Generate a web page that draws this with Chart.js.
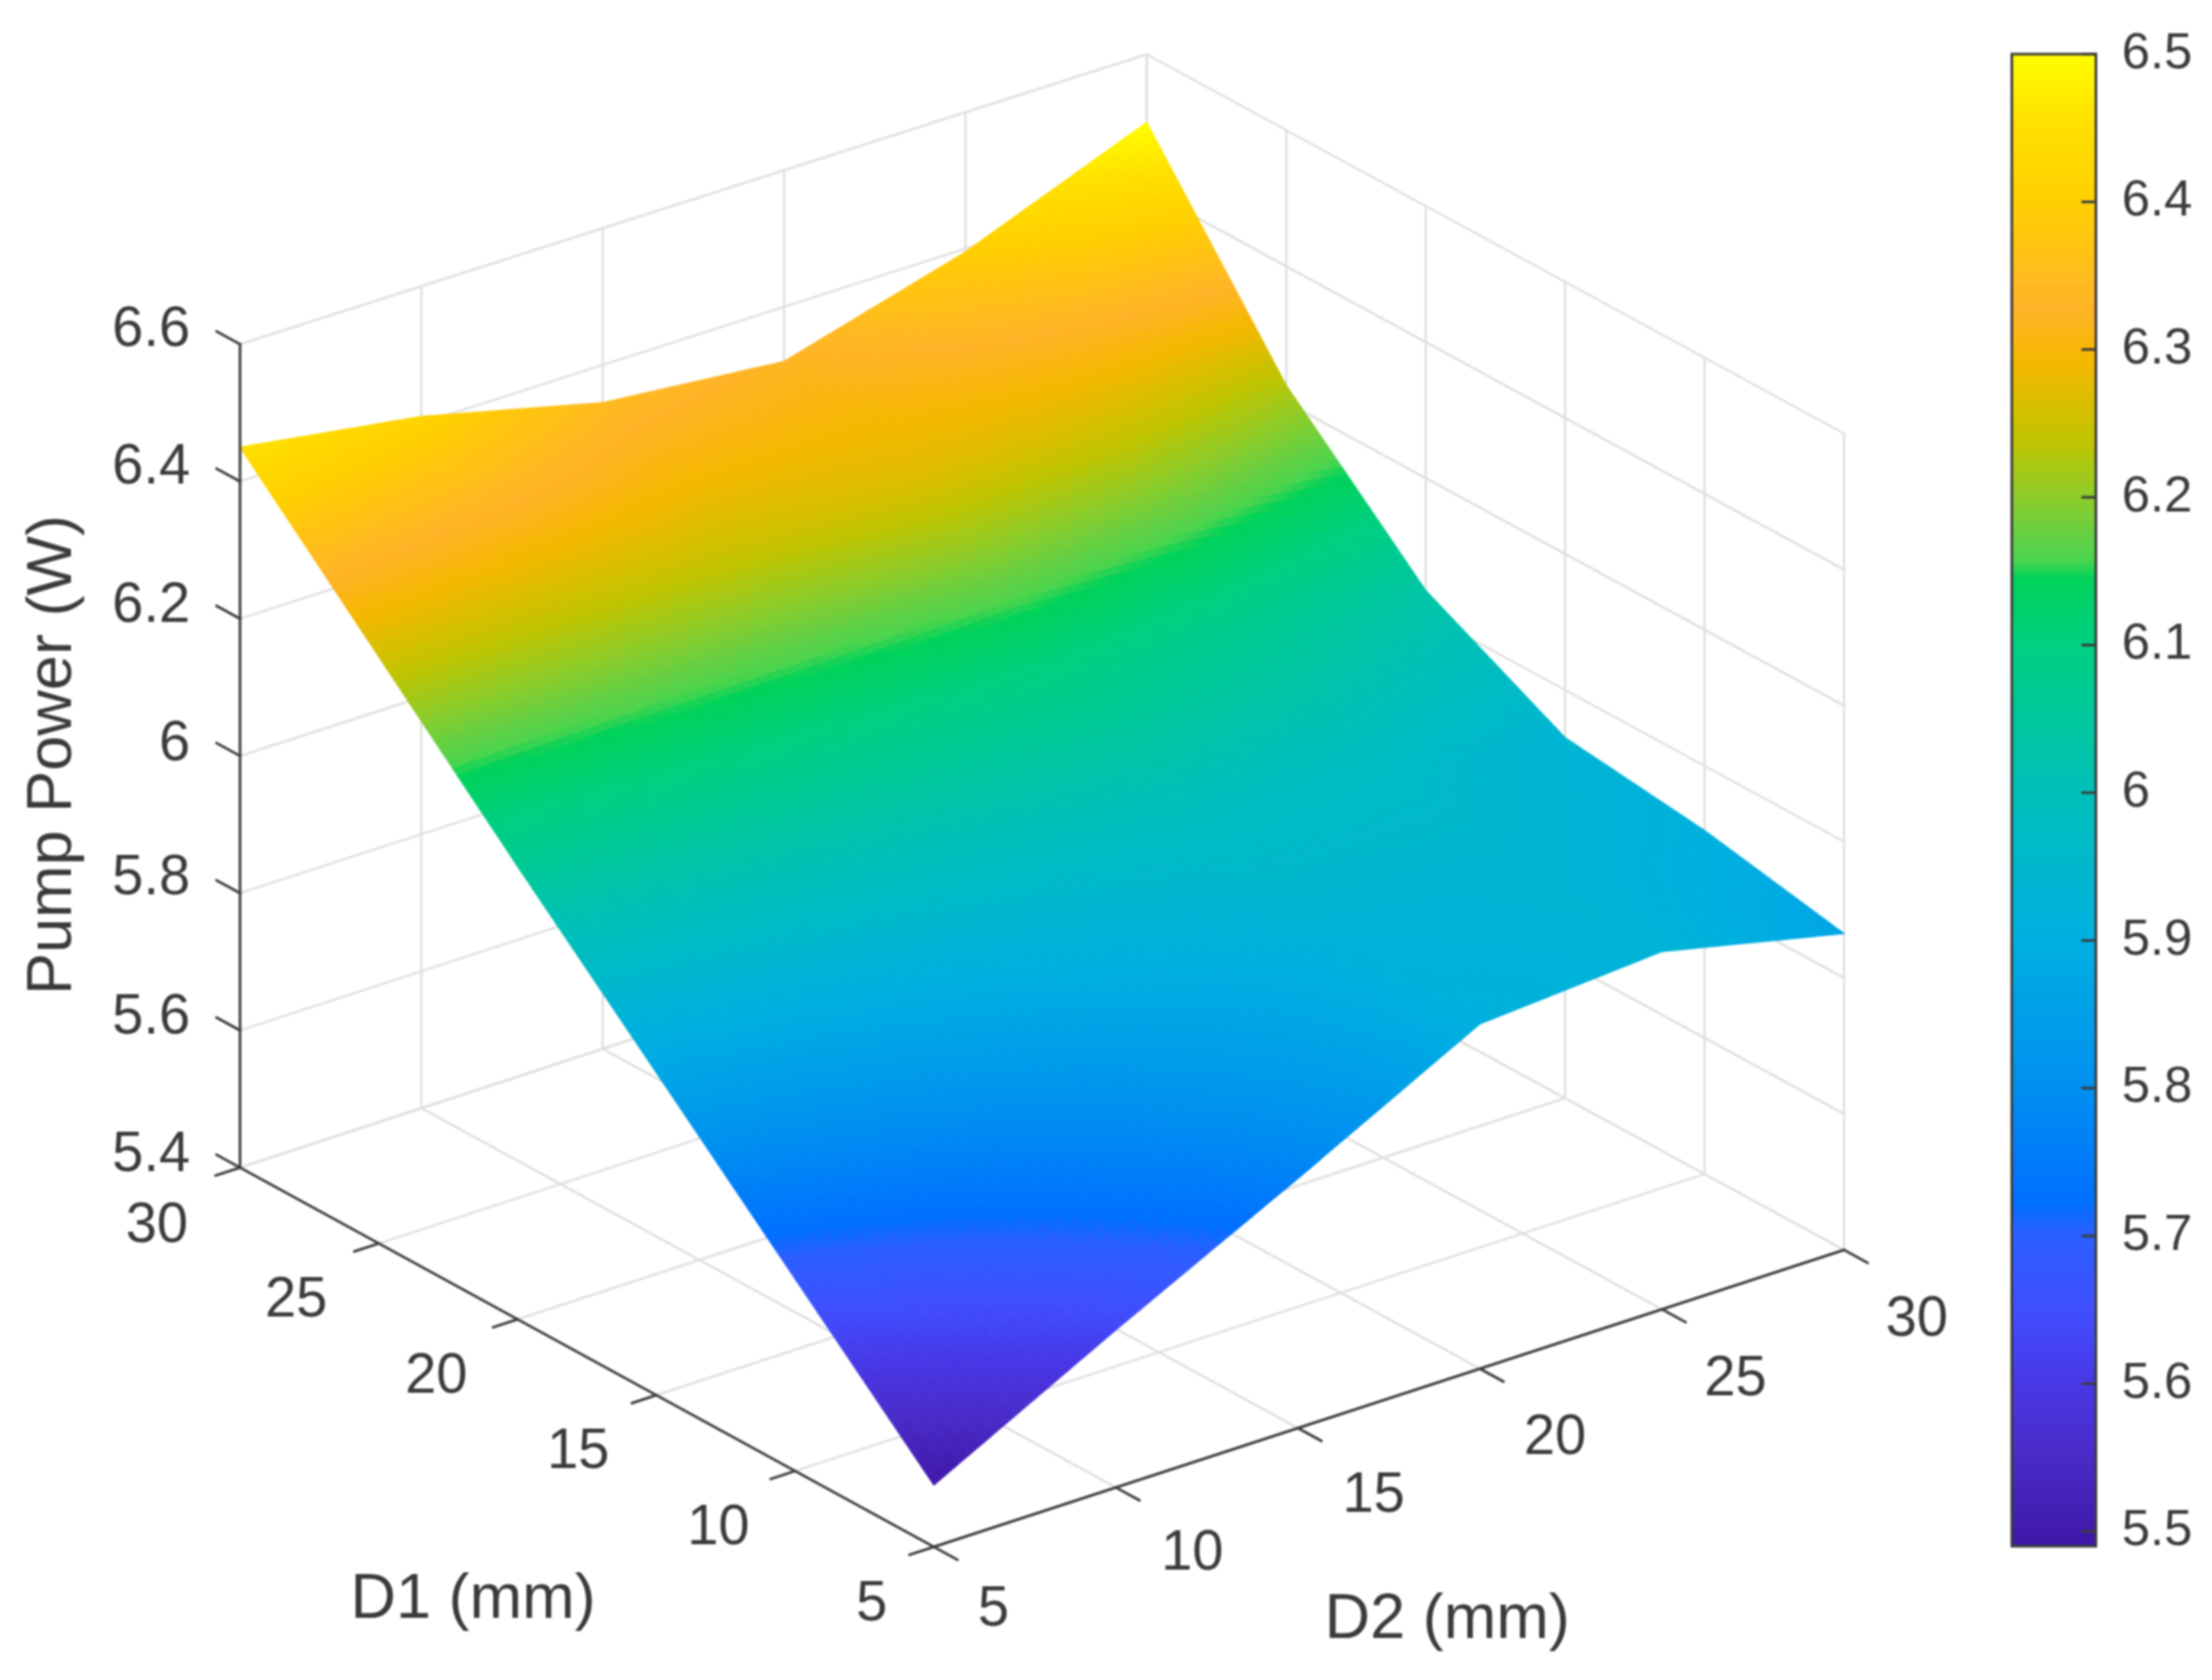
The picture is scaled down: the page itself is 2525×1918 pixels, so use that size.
<!DOCTYPE html>
<html>
<head>
<meta charset="utf-8">
<style>
html,body{margin:0;padding:0;background:#fff;}
#wrap{position:relative;width:2525px;height:1918px;overflow:hidden;background:#fff;}
canvas{position:absolute;filter:blur(1px);}
</style>
<script src="https://cdn.jsdelivr.net/npm/chart.js@4"></script>
</head>
<body>
<div id="wrap">
<canvas id="main" width="2525" height="1918" style="left:0;top:0;width:2525px;height:1918px"></canvas>
<canvas id="bar" width="230" height="1813" style="left:2295px;top:7px;width:230px;height:1813px"></canvas>
</div>
<script>
// ---- data ----
const d1Ticks = [5, 10, 15, 20, 25, 30];
const d2Ticks = [5, 10, 15, 20, 25, 30];
const zTicks = [5.4, 5.6, 5.8, 6, 6.2, 6.4, 6.6];
const colorbarTicks = [5.5, 5.6, 5.7, 5.8, 5.9, 6, 6.1, 6.2, 6.3, 6.4, 6.5];
// Pump power for each D1 row, over the D2 columns
const powerD1_5  = [5.49, 5.63, 5.765, 5.905, 5.925, 5.865];
const powerD1_10 = [5.68, 5.76, 5.85, 5.92, 5.935, 5.905];
const powerD1_15 = [5.87, 5.91, 5.95, 5.98, 5.97, 5.93];
const powerD1_20 = [6.06, 6.08, 6.09, 6.10, 6.075, 6.035];
const powerD1_25 = [6.255, 6.25, 6.25, 6.27, 6.26, 6.225];
const powerD1_30 = [6.45, 6.41, 6.345, 6.32, 6.395, 6.50];
const powerRows = [powerD1_5, powerD1_10, powerD1_15, powerD1_20, powerD1_25, powerD1_30];
// colormap stops: value, colour
const cmapValues = [5.49, 5.55, 5.6, 5.65, 5.70, 5.72, 5.8, 5.9, 6.0, 6.1, 6.143, 6.155, 6.17, 6.2, 6.236, 6.29, 6.327, 6.4, 6.45, 6.5];
const cmapColors = ['#3f18a8','#4a2cc8','#4838e6','#4050ff','#2a60ff','#0070ff','#0090f0','#00b0e0','#00c0b8','#00d080','#00d25a','#4cd44e','#62d045','#90cc28','#c0c400','#f5b800','#ffb428','#ffd000','#ffe000','#ffff00'];

// ---- view of the 3D box ----
const origin = [1066, 1766];
const dirD1 = [-792, -433];
const dirD2 = [1039, -339];
const dirZ = [0, -940];
const perspX = -4, perspZ = -0.0085;
function proj(d1, d2, z) {
  const u = (d1 - 5) / 25, v = (d2 - 5) / 25, w = (z - 5.4) / 1.2 * (1 + perspZ * v);
  return { x: origin[0] + u * dirD1[0] + v * dirD2[0] + w * dirZ[0] + perspX * u * v,
           y: origin[1] + u * dirD1[1] + v * dirD2[1] + w * dirZ[1] };
}
function hex(c){return [parseInt(c.slice(1,3),16),parseInt(c.slice(3,5),16),parseInt(c.slice(5,7),16)];}
function colorOf(val) {
  const n = cmapValues.length;
  if (val <= cmapValues[0]) return cmapColors[0];
  if (val >= cmapValues[n-1]) return cmapColors[n-1];
  for (let i = 0; i < n-1; i++) {
    if (val <= cmapValues[i+1]) {
      const t = (val - cmapValues[i]) / (cmapValues[i+1] - cmapValues[i]);
      const a = hex(cmapColors[i]), b = hex(cmapColors[i+1]);
      return 'rgb(' + a.map((x,k)=>Math.round(x+(b[k]-x)*t)).join(',') + ')';
    }
  }
}
const datasets = [];
function seg(p, q, color, width, order) {
  datasets.push({ data: [p, q], borderColor: color, borderWidth: width, pointRadius: 0, fill: false, order: order, borderCapStyle: 'round' });
}
const gridC = '#dedede', axisC = '#3c3c3c';
const z0 = zTicks[0], z1 = zTicks[zTicks.length-1];
// floor and wall grid
d1Ticks.forEach(a => { seg(proj(a,5,z0), proj(a,30,z0), gridC, 2.5, 20); seg(proj(a,30,z0), proj(a,30,z1), gridC, 2.5, 20); });
d2Ticks.forEach(b => { seg(proj(5,b,z0), proj(30,b,z0), gridC, 2.5, 20); seg(proj(30,b,z0), proj(30,b,z1), gridC, 2.5, 20); });
zTicks.forEach(z => { seg(proj(30,5,z), proj(30,30,z), gridC, 2.5, 20); seg(proj(30,30,z), proj(5,30,z), gridC, 2.5, 20); });
// surface
const SUBA = 30, SUBB = 16;
function zAt(i, j, s, t) {
  const r0 = powerRows[i], r1 = powerRows[i+1];
  return (r0[j]*(1-t) + r0[j+1]*t)*(1-s) + (r1[j]*(1-t) + r1[j+1]*t)*s;
}
for (let i = 0; i < d1Ticks.length-1; i++) for (let j = 0; j < d2Ticks.length-1; j++) {
  const da = d1Ticks[i+1]-d1Ticks[i], db = d2Ticks[j+1]-d2Ticks[j];
  for (let a = 0; a < SUBA; a++) for (let b = 0; b < SUBB; b++) {
    const s0=a/SUBA,s1=(a+1)/SUBA,t0=b/SUBB,t1=(b+1)/SUBB;
    const P=(s,t)=>proj(d1Ticks[i]+s*da, d2Ticks[j]+t*db, zAt(i,j,s,t));
    const c = colorOf(zAt(i,j,(s0+s1)/2,(t0+t1)/2));
    const p0=P(s0,t0);
    datasets.push({ data:[p0,P(s1,t0),P(s1,t1),P(s0,t1),p0], fill:'shape', backgroundColor:c, borderColor:c, borderWidth:1.2, pointRadius:0, order:10 });
  }
}
// dark axes and ticks
const tD1 = 0.034, tD2 = 0.027;
seg(proj(30,5,z0), proj(30,5,z1), axisC, 3, 5);
seg(proj(30,5,z0), proj(5,5,z0), axisC, 3, 5);
seg(proj(5,5,z0), proj(5,30,z0), axisC, 3, 5);
zTicks.forEach(z => { const p=proj(30,5,z); seg(p, {x:p.x+tD1*dirD1[0], y:p.y+tD1*dirD1[1]}, axisC, 3, 5); });
d1Ticks.forEach(a => { const p=proj(a,5,z0); seg(p, {x:p.x-tD2*dirD2[0], y:p.y-tD2*dirD2[1]}, axisC, 3, 5); });
d2Ticks.forEach(b => { const p=proj(5,b,z0); seg(p, {x:p.x-tD1*dirD1[0], y:p.y-tD1*dirD1[1]}, axisC, 3, 5); });

const labelFont = '64px "Liberation Sans"', titleFont = '72px "Liberation Sans"', txtC = '#3a3a3a';
const zLabelY = [1319, 1162, 1003, 850, 692, 534, 377];
const d1LabelPos = [[995,1832],[820,1745],[660,1658],[498,1572],[338,1485],[179,1400]];
const d2LabelPos = [[1134,1838],[1361,1774],[1568,1708],[1775,1642],[1981,1575],[2188,1507]];
const textPlugin = { id:'texts', afterDraw(chart){
  const c = chart.ctx; c.save(); c.fillStyle = txtC; c.textBaseline='middle';
  c.font = labelFont; c.textAlign='right';
  zTicks.forEach((z,i)=>c.fillText(String(z),217,zLabelY[i]));
  c.textAlign='center';
  d1Ticks.forEach((a,i)=>c.fillText(String(a),d1LabelPos[i][0],d1LabelPos[i][1]));
  d2Ticks.forEach((b,i)=>c.fillText(String(b),d2LabelPos[i][0],d2LabelPos[i][1]));
  c.font = titleFont;
  c.fillText('D1 (mm)',540,1827);
  c.fillText('D2 (mm)',1652,1850);
  c.translate(61,862); c.rotate(-Math.PI/2); c.fillText('Pump Power (W)',0,0);
  c.restore();
}};
Chart.defaults.animation = false;
new Chart(document.getElementById('main'), {
  type:'line',
  data:{ datasets },
  plugins:[textPlugin],
  options:{ responsive:false, devicePixelRatio:1, events:[], layout:{padding:0},
    plugins:{legend:{display:false},tooltip:{enabled:false}},
    elements:{line:{tension:0}},
    scales:{ x:{type:'linear',display:false,min:0,max:2525},
             y:{type:'linear',display:false,min:0,max:1918,reverse:true} } }
});

// colourbar
const cbMin = 5.49, cbMax = 6.5;
const barSets = [];
const STEPS = 340;
for (let k=0;k<STEPS;k++){
  const v0=cbMin+(cbMax-cbMin)*k/STEPS, v1=cbMin+(cbMax-cbMin)*(k+1)/STEPS;
  const c=colorOf((v0+v1)/2);
  barSets.push({data:[[v0,Math.min(cbMax,v1+0.002)]],backgroundColor:c,borderWidth:0,barPercentage:1,categoryPercentage:1,grouped:false});
}
const barPlugin = { id:'cbframe', afterDatasetsDraw(chart){
  const c=chart.ctx,a=chart.chartArea,y=chart.scales.y;
  c.save(); c.strokeStyle=axisC; c.lineWidth=3;
  c.strokeRect(a.left+1.5,a.top,a.right-a.left-3,a.bottom-a.top);
  c.beginPath();
  colorbarTicks.forEach(v=>{const p=y.getPixelForValue(v);c.moveTo(a.right-18,p);c.lineTo(a.right,p);});
  c.stroke(); c.restore();
}};
new Chart(document.getElementById('bar'), {
  type:'bar',
  data:{labels:['Pump Power'],datasets:barSets},
  plugins:[barPlugin],
  options:{ responsive:false, devicePixelRatio:1, events:[], layout:{padding:0},
    plugins:{legend:{display:false},tooltip:{enabled:false}},
    scales:{
      x:{display:false,stacked:false},
      y:{position:'right',min:cbMin,max:cbMax,
         grid:{display:false},border:{display:false},
         afterBuildTicks(s){s.ticks=colorbarTicks.map(v=>({value:v}));},
         afterFit(s){s.width=131;},
         ticks:{color:txtC,font:{family:'Liberation Sans',size:58},padding:20,crossAlign:'near',autoSkip:false,
                callback:v=>String(Math.round(v*10)/10)}}
    }}
});
</script>
</body>
</html>
